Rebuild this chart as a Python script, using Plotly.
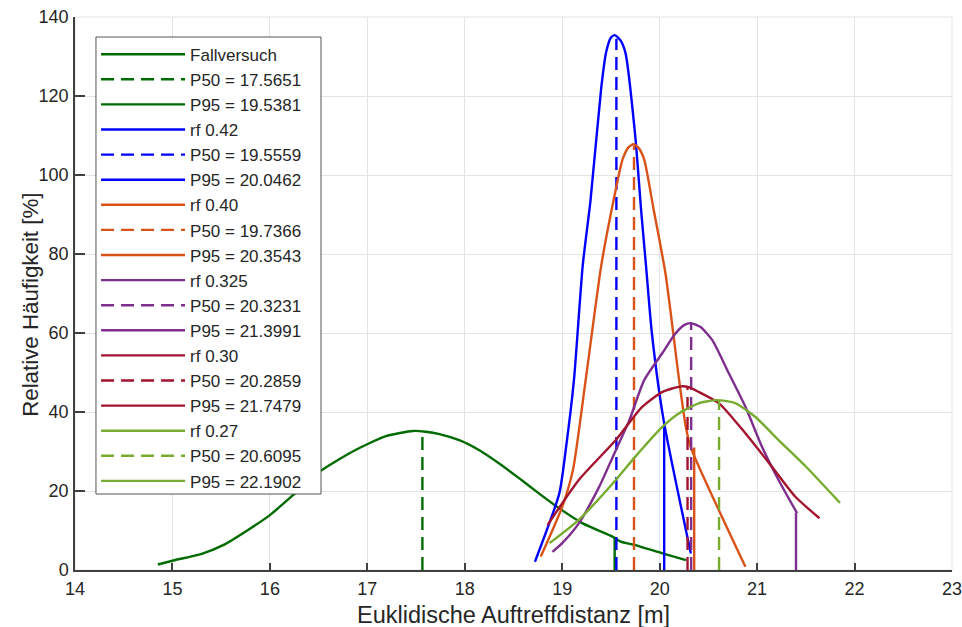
import plotly.graph_objects as go

# ---------------- data ----------------
fall_x = [14.85, 15.01, 15.30, 15.52, 15.76, 16.00, 16.24, 16.51, 16.85, 17.19, 17.47, 17.60, 17.74,
          17.95, 18.15, 18.35, 18.56, 18.75, 18.97, 19.21, 19.52, 19.60, 19.75, 20.03, 20.27]
fall_y = [1.4, 2.4, 4.1, 6.3, 9.9, 13.9, 19.0, 24.9, 30.0, 33.9, 35.2, 35.0, 34.4,
          32.8, 30.3, 27.0, 23.2, 19.6, 15.6, 11.8, 8.4, 7.2, 6.3, 4.2, 2.5]

rf042_x = [18.72, 18.97, 19.04, 19.12, 19.21, 19.29, 19.40, 19.45, 19.50, 19.54, 19.60, 19.65,
           19.75, 19.81, 19.86, 19.92, 20.04, 20.32]
rf042_y = [2.1, 19.4, 31.2, 48.0, 77.0, 93.5, 122.0, 131.0, 134.8, 135.4, 134.0, 130.8,
           109.7, 91.0, 77.0, 60.0, 38.0, 4.2]

rf040_x = [18.78, 19.00, 19.11, 19.24, 19.40, 19.53, 19.62, 19.68, 19.73, 19.78, 19.84, 19.94,
           20.06, 20.20, 20.27, 20.32, 20.88]
rf040_y = [3.4, 16.0, 25.3, 48.0, 77.0, 94.0, 104.0, 107.0, 107.8, 107.0, 104.0, 91.0,
           75.0, 48.0, 36.0, 31.0, 0.8]

rf0325_x = [18.90, 19.00, 19.17, 19.38, 19.52, 19.69, 19.84, 20.03, 20.15, 20.25, 20.32, 20.42,
            20.54, 20.71, 20.88, 21.05, 21.22, 21.41]
rf0325_y = [4.6, 6.8, 11.8, 21.1, 28.7, 38.0, 48.0, 55.0, 59.5, 62.0, 62.5, 61.5,
            58.2, 49.8, 41.3, 31.2, 22.8, 14.4]

rf030_x = [18.85, 19.17, 19.55, 19.82, 20.03, 20.22, 20.30, 20.40, 20.61, 20.88, 21.15, 21.39, 21.64]
rf030_y = [11.4, 22.8, 32.9, 41.3, 45.1, 46.5, 46.3, 45.1, 42.2, 34.6, 26.2, 18.6, 13.1]

rf027_x = [18.87, 19.17, 19.55, 19.75, 20.03, 20.20, 20.40, 20.59, 20.78, 20.98, 21.22, 21.50, 21.85]
rf027_y = [6.8, 12.7, 22.8, 28.7, 36.3, 39.7, 42.2, 43.0, 42.2, 38.8, 32.9, 26.2, 17.0]

series_names = ["Fallversuch", "rf 0.42", "rf 0.40", "rf 0.325", "rf 0.30", "rf 0.27"]
series_x = [fall_x, rf042_x, rf040_x, rf0325_x, rf030_x, rf027_x]
series_y = [fall_y, rf042_y, rf040_y, rf0325_y, rf030_y, rf027_y]

p50_vals = [17.5651, 19.5559, 19.7366, 20.3231, 20.2859, 20.6095]
p50_heights = [35.2, 134.5, 107.5, 62.5, 46.3, 43.0]
p95_vals = [19.5381, 20.0462, 20.3543, 21.3991, 21.7479, 22.1902]
p95_heights = [8.3, 37.0, 31.0, 14.5, 0.0, 0.0]

colors = ["#006B00", "#0000FF", "#D95319", "#7E2F8E", "#A2142F", "#77AC30"]

x_ticks = [14, 15, 16, 17, 18, 19, 20, 21, 22, 23]
y_ticks = [0, 20, 40, 60, 80, 100, 120, 140]

x_title = "Euklidische Auftreffdistanz [m]"
y_title = "Relative Häufigkeit [%]"

# ---------------- figure ----------------
FONT = "Liberation Sans, Arial, Helvetica, sans-serif"
TXT = "#262626"
AX = "#404040"
LW = 2.4

fig = go.Figure()
for i, name in enumerate(series_names):
    c = colors[i]
    fig.add_trace(go.Scatter(x=series_x[i], y=series_y[i], mode="lines", name=name,
                             line=dict(color=c, width=LW, shape="spline", smoothing=0.6)))
    fig.add_trace(go.Scatter(x=[p50_vals[i], p50_vals[i]], y=[0, p50_heights[i]], mode="lines",
                             name=f"P50 = {p50_vals[i]:.4f}",
                             line=dict(color=c, width=LW, dash="13px,7px")))
    fig.add_trace(go.Scatter(x=[p95_vals[i], p95_vals[i]], y=[0, p95_heights[i]], mode="lines",
                             name=f"P95 = {p95_vals[i]:.4f}",
                             line=dict(color=c, width=LW)))

# plot area: x 75..952 px, y 17..570 px ; legend frame 96..321 x 37..494 px
fig.update_layout(
    width=962, height=627,
    margin=dict(l=75, r=10, t=17, b=57, autoexpand=False),
    paper_bgcolor="white", plot_bgcolor="white",
    font=dict(family=FONT, color=TXT, size=18),
    showlegend=True,
    legend=dict(x=0.024, y=0.9645, xanchor="left", yanchor="top",
                bgcolor="rgba(0,0,0,0)", borderwidth=0,
                font=dict(family=FONT, size=17, color=TXT),
                tracegroupgap=0, itemwidth=84, traceorder="normal"),
    shapes=[
        dict(type="rect", xref="x domain", yref="y domain", x0=0, x1=1, y0=0, y1=1,
             line=dict(color="#e3e3e3", width=1), layer="below"),
        dict(type="rect", xref="paper", yref="paper", x0=0.0239, x1=0.2805, y0=0.1374, y1=0.9638,
             line=dict(color="#555555", width=1), fillcolor="white", layer="above"),
    ],
    annotations=[
        dict(text=x_title, xref="paper", yref="paper", x=0.5, y=-0.082,
             xanchor="center", yanchor="middle", showarrow=False,
             font=dict(family=FONT, size=23.5, color=TXT)),
        dict(text=y_title, xref="paper", yref="paper", x=-0.051, y=0.48,
             xanchor="center", yanchor="middle", showarrow=False, textangle=-90,
             font=dict(family=FONT, size=22.3, color=TXT)),
    ],
)

fig.update_xaxes(range=[14, 23], tickvals=x_ticks, ticktext=[str(v) for v in x_ticks],
                 showgrid=True, gridcolor="#e3e3e3", gridwidth=1, zeroline=False,
                 showline=True, linecolor=AX, linewidth=1.5,
                 ticks="inside", ticklen=7, tickcolor=AX, tickwidth=1.5,
                 tickfont=dict(size=18, color=TXT), ticklabelstandoff=2,
                 ticklabeloverflow="allow", automargin=False)
fig.update_yaxes(range=[0, 140], tickvals=y_ticks, ticktext=[str(v) for v in y_ticks],
                 showgrid=True, gridcolor="#e3e3e3", gridwidth=1, zeroline=False,
                 showline=True, linecolor=AX, linewidth=1.5,
                 ticks="inside", ticklen=10, tickcolor=AX, tickwidth=1.5,
                 tickfont=dict(size=18, color=TXT), ticklabelstandoff=1,
                 ticklabeloverflow="allow", automargin=False)

fig.write_html("out.html")
